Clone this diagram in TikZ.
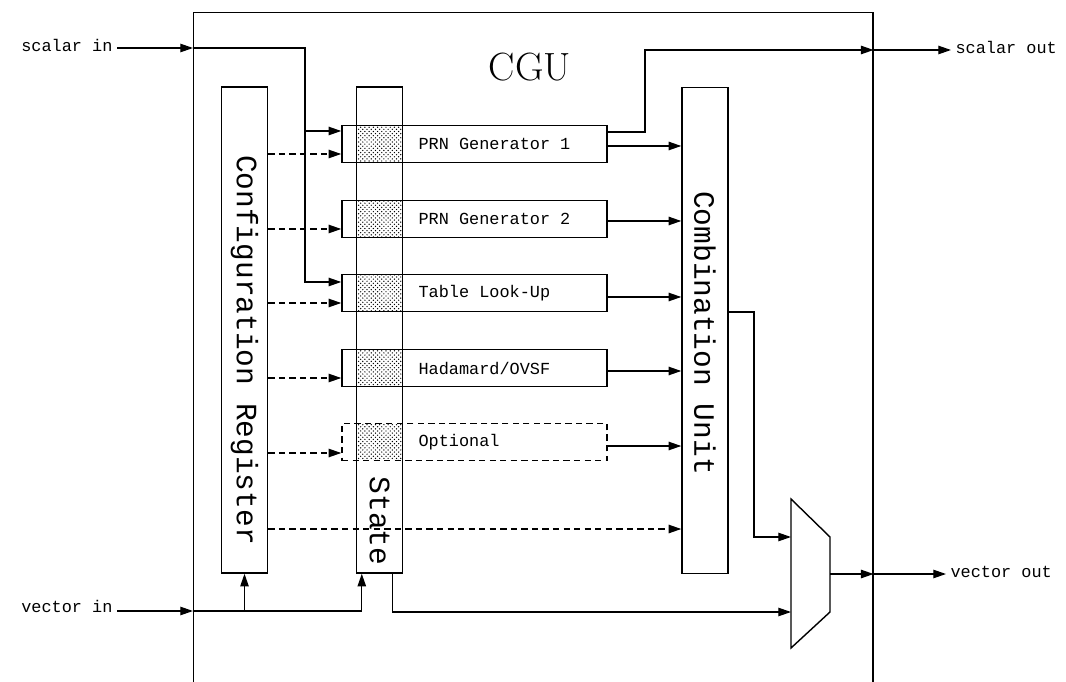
\documentclass[tikz,border=0pt]{standalone}
\usepackage{fontspec}
\setmonofont{Liberation Mono}
\usetikzlibrary{arrows.meta,positioning,patterns,calc}

\begin{document}
\begin{tikzpicture}[x=0.025cm, y=-0.025cm,
    lbl/.style={font=\ttfamily\fontsize{12}{14}\selectfont, inner sep=3pt},
    unit/.style={rectangle, draw=black, line width=1pt, minimum width=1.15cm, minimum height=12.15cm},
    unitlbl/.style={font=\ttfamily\fontsize{21}{23}\selectfont, rotate=-90, inner sep=0pt},
    gen/.style={rectangle, draw=black, line width=1pt, minimum width=6.625cm, minimum height=0.925cm},
    optgen/.style={gen, dash pattern=on 4.5pt off 3pt},
    wire/.style={line width=0.9pt},
    arrow/.style={line width=0.9pt, -{Triangle[length=9pt,width=6pt]}},
    cfg_arrow/.style={arrow, dash pattern=on 4.5pt off 3pt},
    dotfill/.style={pattern=crosshatch dots, pattern color=black}
]
\useasboundingbox (0,0) rectangle (1066,682);

% CGU frame
\node[draw, line width=1pt, anchor=north west, minimum width=16.975cm, minimum height=17.5cm] (cgu) at (193,12) {};
\node[font=\fontsize{28}{30}\selectfont] (title) at (530,67) {CGU};

% Units
\node[unit] (cfg) at (244.5,330) {};
\node[unit] (state) at (379.5,330) {};
\node[unit] (comb) at (705,330.5) {};
\node[unitlbl] at (244.5,350) {Configuration Register};
\node[unitlbl] at (379.5,521) {State};
\node[unitlbl] at (705,333) {Combination Unit};

% Generators
\node[gen] (gen1) at (474.5,144) {};
\node[gen] (gen2) at (474.5,219) {};
\node[gen] (gen3) at (474.5,293) {};
\node[gen] (gen4) at (474.5,368) {};
\node[optgen] (gen5) at (474.5,442) {};
\foreach \g in {gen1,gen2,gen3,gen4,gen5}
    \fill[dotfill] (state.west |- \g.north) ++(1.5,1.5) rectangle ($(state.east |- \g.south)+(-1.5,-1.5)$);
\node[lbl, anchor=west] at (414,144) {PRN Generator 1};
\node[lbl, anchor=west] at (414,219) {PRN Generator 2};
\node[lbl, anchor=west] at (414,293) {Table Look-Up};
\node[lbl, anchor=west] at (414,368) {Hadamard/OVSF};
\node[lbl, anchor=west] at (414,442) {Optional};

% Mux
\draw[line width=1pt] (791,499) -- (830,537) -- (830,612) -- (791,648) -- cycle;
\coordinate (muxa) at (791,537);
\coordinate (muxb) at (791,612);
\coordinate (muxo) at (830,574);

% External labels
\node[lbl, anchor=east] (sin) at (117,45) {scalar in};
\node[lbl, anchor=west] (sout) at (951,47) {scalar out};
\node[lbl, anchor=east] (vin) at (117,606) {vector in};
\node[lbl, anchor=west] (vout) at (946,572) {vector out};

% Scalar path
\draw[arrow] (sin.east |- 0,48) -- (cgu.west |- 0,48);
\draw[arrow] (cgu.west |- 0,48) -| (305,282) -- (gen3.west |- 0,282);
\coordinate (split) at (305,131);
\draw[arrow] (split) -- (gen1.west |- split);
\draw[arrow] (gen1.east |- 0,132) -| (645,50) -- (cgu.east |- 0,50);
\draw[arrow] (cgu.east |- 0,50) -- (sout.west |- 0,50);

% Configuration
\draw[cfg_arrow] (cfg.east |- 0,154) -- (gen1.west |- 0,154);
\draw[cfg_arrow] (cfg.east |- 0,229) -- (gen2.west |- 0,229);
\draw[cfg_arrow] (cfg.east |- 0,303) -- (gen3.west |- 0,303);
\draw[cfg_arrow] (cfg.east |- 0,378) -- (gen4.west |- 0,378);
\draw[cfg_arrow] (cfg.east |- 0,453) -- (gen5.west |- 0,453);
\draw[cfg_arrow] (cfg.east |- 0,529) -- (comb.west |- 0,529);

% Generator outputs
\draw[arrow] (gen1.east |- 0,146) -- (comb.west |- 0,146);
\draw[arrow] (gen2.east |- 0,221) -- (comb.west |- 0,221);
\draw[arrow] (gen3.east |- 0,297) -- (comb.west |- 0,297);
\draw[arrow] (gen4.east |- 0,371) -- (comb.west |- 0,371);
\draw[arrow] (gen5.east |- 0,446) -- (comb.west |- 0,446);

% Vector path
\draw[arrow] (comb.east |- 0,312) -| (754,537) -- (muxa);
\draw[arrow] (vin.east |- 0,611) -- (cgu.west |- 0,611);
\draw[arrow] (cgu.west |- 0,611) -| ($(state.south west)+(6,0)$);
\draw[arrow] (cfg.south |- 0,611) -- (cfg.south);
\draw[arrow] ($(state.south east)+(-11,0)$) |- (muxb);
\draw[arrow] (muxo) -- (cgu.east |- muxo);
\draw[arrow] (cgu.east |- muxo) -- (vout.west |- muxo);

\end{tikzpicture}
\end{document}
